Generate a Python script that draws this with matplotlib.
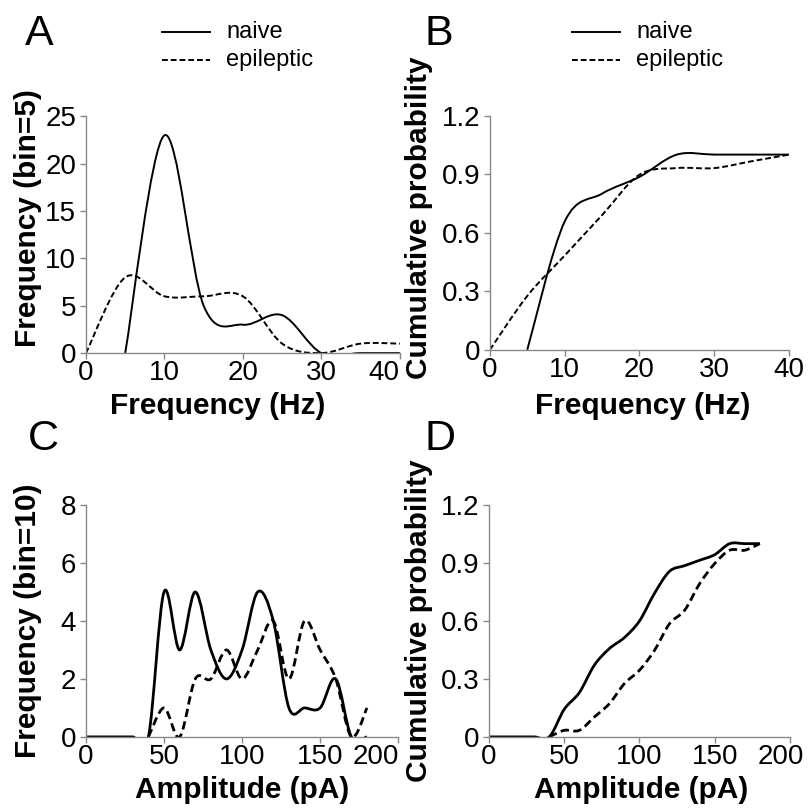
import numpy as np
import matplotlib.pyplot as plt
import matplotlib.transforms as mtransforms
from matplotlib.path import Path
from matplotlib.patches import PathPatch

plt.rcParams['font.family'] = ['Liberation Sans', 'DejaVu Sans']

# frequency histograms (bin = 5 Hz)
freq_naive_x = [5, 10, 15, 20, 25, 30, 35, 40]
freq_naive_y = [0, 23, 5, 3, 4, 0, 0, 0]
freq_epi_x = [0, 5, 10, 15, 20, 25, 30, 35, 40]
freq_epi_y = [0, 8, 6, 6, 6, 1, 0, 1, 1]

# cumulative probability of frequency
cum_freq_naive_y = [0, 0.657, 0.8, 0.886, 1.0, 1.0, 1.0, 1.0]
cum_freq_epi_y = [0, 0.276, 0.483, 0.69, 0.897, 0.931, 0.931, 0.966, 1.0]

# amplitude histograms (bin = 10 pA)
amp_x = [0, 10, 20, 30, 40, 50, 60, 70, 80, 90, 100, 110, 120, 130, 140, 150, 160, 170, 180]
amp_naive_y = [0, 0, 0, 0, 0, 5, 3, 5, 3, 2, 3, 5, 4, 1, 1, 1, 2, 0, 0]
amp_epi_x = [40, 50, 60, 70, 80, 90, 100, 110, 120, 130, 140, 150, 160, 170, 180]
amp_epi_y = [0, 1, 0, 2, 2, 3, 2, 3, 4, 2, 4, 3, 2, 0, 1]

# cumulative probability of amplitude
cum_amp_naive_y = [0, 0, 0, 0, 0, 0.143, 0.229, 0.371, 0.457, 0.514, 0.6, 0.743,
                   0.857, 0.886, 0.914, 0.943, 1.0, 1.0, 1.0]
cum_amp_epi_y = [0, 0.034, 0.034, 0.103, 0.172, 0.276, 0.345, 0.448, 0.586,
                 0.655, 0.793, 0.897, 0.966, 0.966, 1.0]


def smooth(ax, x, y, **kw):
    # Excel-style smoothed line: cubic bezier through the data points
    p = np.column_stack([x, y]).astype(float)
    verts = [p[0]]
    codes = [Path.MOVETO]
    n = len(p)
    for i in range(n - 1):
        p0 = p[max(i - 1, 0)]
        p1, p2 = p[i], p[i + 1]
        p3 = p[min(i + 2, n - 1)]
        verts += [p1 + (p2 - p0) / 6, p2 - (p3 - p1) / 6, p2]
        codes += [Path.CURVE4] * 3
    patch = PathPatch(Path(verts, codes), fill=False, color='black', **kw)
    ax.add_patch(patch)
    return patch


def style(ax, xlim, xticks, ylim, yticks, yfmt):
    ax.set_xlim(*xlim)
    ax.set_ylim(*ylim)
    ax.set_xticks(xticks)
    ax.set_yticks(yticks)
    ax.set_yticklabels([yfmt(v) for v in yticks])
    for s in ['top', 'right']:
        ax.spines[s].set_visible(False)
    for s in ['left', 'bottom']:
        ax.spines[s].set_color('#888888')
        ax.spines[s].set_linewidth(1.0)
    ax.tick_params(labelsize=20, length=4, width=1, color='#888888')
    ax.tick_params(axis='x', pad=1)
    ax.tick_params(axis='y', pad=3)


def shift_last_xlabel(ax, dx_px):
    lab = ax.get_xticklabels()[-1]
    lab.set_transform(lab.get_transform() +
                      mtransforms.ScaledTranslation(dx_px / 100, 0, fig.dpi_scale_trans))


def labels(ax, xl, yl, xpos, ypos):
    ax.set_xlabel(xl, fontsize=21.5, fontweight='bold')
    ax.set_ylabel(yl, fontsize=21.5, fontweight='bold')
    ax.xaxis.set_label_coords(*xpos)
    ax.yaxis.set_label_coords(*ypos)


fig = plt.figure(figsize=(8.11, 8.08), dpi=100)
axA = fig.add_axes([0.106, 0.563, 0.387, 0.293])
axB = fig.add_axes([0.604, 0.567, 0.369, 0.290])
axC = fig.add_axes([0.106, 0.088, 0.385, 0.287])
axD = fig.add_axes([0.603, 0.088, 0.371, 0.287])

thin = dict(lw=1.4)
dash_thin = dict(lw=1.4, linestyle=(0, (3, 1.5)))
thick = dict(lw=2.0)
dash_thick = dict(lw=2.0, linestyle=(0, (3, 1.6)))

smooth(axA, freq_naive_x, freq_naive_y, **thin)
smooth(axA, freq_epi_x, freq_epi_y, **dash_thin)
style(axA, (0, 40), [0, 10, 20, 30, 40], (0, 25), [0, 5, 10, 15, 20, 25], lambda v: f'{v:g}')
labels(axA, 'Frequency (Hz)', 'Frequency (bin=5)', (0.42, -0.165), (-0.14, 0.57))
shift_last_xlabel(axA, -16)

smooth(axB, freq_naive_x, cum_freq_naive_y, **thin)
smooth(axB, freq_epi_x, cum_freq_epi_y, **dash_thin)
style(axB, (0, 40), [0, 10, 20, 30, 40], (0, 1.2), [0, 0.3, 0.6, 0.9, 1.2], lambda v: '0' if v == 0 else f'{v:.1f}')
labels(axB, 'Frequency (Hz)', 'Cumulative probability', (0.51, -0.18), (-0.19, 0.564))

smooth(axC, amp_x, amp_naive_y, **thick)
smooth(axC, amp_epi_x, amp_epi_y, **dash_thick)
style(axC, (0, 200), [0, 50, 100, 150, 200], (0, 8), [0, 2, 4, 6, 8], lambda v: f'{v:g}')
labels(axC, 'Amplitude (pA)', 'Frequency (bin=10)', (0.5, -0.168), (-0.141, 0.5))
shift_last_xlabel(axC, -22)

smooth(axD, amp_x, cum_amp_naive_y, **thick)
smooth(axD, amp_epi_x, cum_amp_epi_y, **dash_thick)
style(axD, (0, 200), [0, 50, 100, 150, 200], (0, 1.2), [0, 0.3, 0.6, 0.9, 1.2], lambda v: '0' if v == 0 else f'{v:.1f}')
labels(axD, 'Amplitude (pA)', 'Cumulative probability', (0.505, -0.168), (-0.186, 0.5))
shift_last_xlabel(axD, -9)

# panel letters
for letter, (x, y) in zip('ABCD', [(25, 45), (425, 45), (28, 450), (425, 450)]):
    fig.text(x / 811, 1 - y / 808, letter, fontsize=31, ha='left', va='baseline')

# legends drawn by hand at the top of A and B
for x0 in [162, 572]:
    for k, (name, ls) in enumerate([('naive', '-'), ('epileptic', (0, (3, 1.5)))]):
        yy = 1 - (32 + 28 * k) / 808
        fig.add_artist(plt.Line2D([x0 / 811, (x0 + 48) / 811], [yy, yy],
                                  color='black', lw=1.4, linestyle=ls))
        fig.text((x0 + 64) / 811, yy, name, fontsize=17, va='center', ha='left')

fig.savefig('out.png', dpi=100)
